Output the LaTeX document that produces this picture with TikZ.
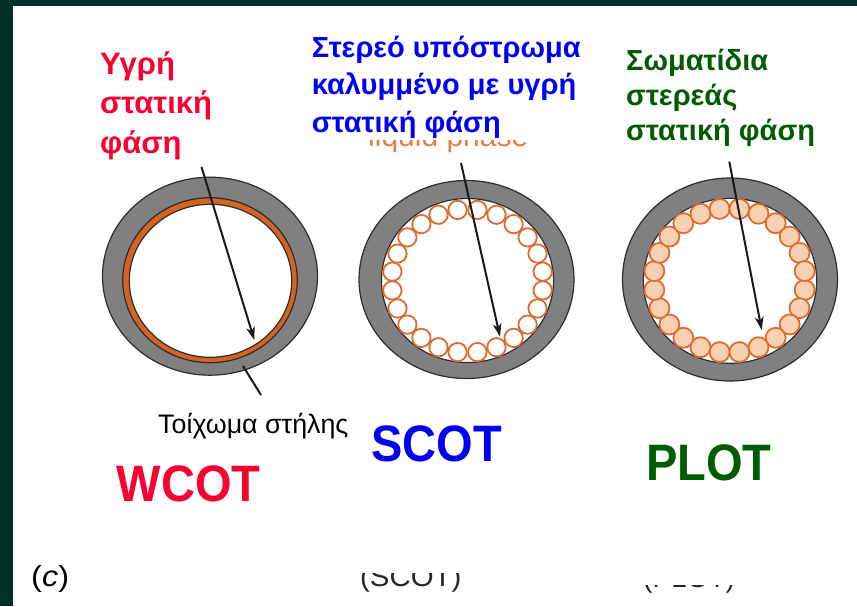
\documentclass[tikz,border=0pt]{standalone}
\usepackage{fontspec}
\usepackage{graphicx}
\setmainfont{Liberation Sans}
\usetikzlibrary{arrows.meta,shapes.geometric}

\definecolor{framegreen}{RGB}{0,48,38}
\definecolor{wallgrey}{RGB}{128,128,131}
\definecolor{edgegrey}{RGB}{45,45,45}
\definecolor{filmorange}{RGB}{214,98,32}
\definecolor{beadorange}{RGB}{222,108,48}
\definecolor{beadfill}{RGB}{248,208,178}
\definecolor{liqorange}{RGB}{226,126,64}
\definecolor{wred}{RGB}{250,0,50}
\definecolor{sblue}{RGB}{0,0,245}
\definecolor{pgreen}{RGB}{0,92,0}

\newcommand{\fs}[1]{\fontsize{#1}{#1}\selectfont}

\begin{document}
\begin{tikzpicture}[x=1pt,y=-1pt,
  ring/.style={ellipse, draw=edgegrey, line width=1.2pt, inner sep=0pt},
  wall/.style={ring, fill=wallgrey},
  bore/.style={ring, fill=white},
  film/.style={ring, fill=filmorange},
  ptr/.style={line width=2pt, draw=black!90,
    -{Stealth[length=13pt,width=8.5pt,inset=3.5pt]}},
  lead/.style={line width=2pt, draw=black!90},
  txt/.style={inner sep=0pt, anchor=base west},
  head/.style={txt, font=\bfseries\fs{#1}},
  big/.style={txt, font=\bfseries\fs{47}},
]
\useasboundingbox (0,0) rectangle (857,606);
\fill[white] (0,0) rectangle (857,606);
% dark frame strips
\fill[framegreen] (0,0) rectangle (13,606);
\fill[framegreen] (0,0) rectangle (857,5.7);

% ---------- WCOT: wall-coated open tubular ----------
\node[wall, minimum width=215pt, minimum height=198pt] (wwall) at (210,276.2) {};
\node[film, minimum width=174.6pt, minimum height=165pt] (wfilm) at (210,280.2) {};
\node[bore, minimum width=162.4pt, minimum height=153pt] (wbore) at (210.5,280.8) {};

% ---------- SCOT: support-coated open tubular ----------
\node[wall, minimum width=215pt, minimum height=198pt] (swall) at (466.5,279.5) {};
\node[bore, minimum width=172pt, minimum height=164pt] (sbore) at (467.5,280.5) {};
\foreach \a in {0,...,23}{
  \draw[beadorange, line width=1.8pt, fill=white]
    ({467.5+75.8*cos(7.5+15*\a)},{281+71.7*sin(7.5+15*\a)}) circle[radius=9.2pt];
}

% ---------- PLOT: porous-layer open tubular ----------
\node[wall, minimum width=215pt, minimum height=203pt] (pwall) at (730,279.5) {};
\node[bore, minimum width=173.4pt, minimum height=165pt] (pbore) at (730,280.8) {};
\foreach \a in {0,...,23}{
  \draw[beadorange, line width=1.8pt, fill=beadfill]
    ({729.5+75.8*cos(7.5+15*\a)},{280.5+72.2*sin(7.5+15*\a)}) circle[radius=10pt];
}

% ---------- pointers ----------
\coordinate (wtail) at (201.5,167);
\coordinate (whead) at (254.3,340);
\coordinate (stail) at (461,163);
\coordinate (shead) at (500,336.7);
\coordinate (ptail) at (729.3,161.7);
\coordinate (phead) at (761.7,330);
\coordinate (walltip) at (243,366);
\coordinate (wallend) at (261,395);
\draw[ptr] (wtail) -- (whead);
\draw[ptr] (stail) -- (shead);
\draw[ptr] (ptail) -- (phead);
\draw[lead] (walltip) -- (wallend);

% ---------- headings ----------
\node[head=31, wred] (r1) at (100,74) {Υγρή};
\node[head=31, wred] (r2) at (100,113.5) {στατική};
\node[head=31, wred] (r3) at (100,153) {φάση};

% lower half of the orange caption, upper half hidden under the blue heading
\begin{scope}
  \clip (360,140) rectangle (548,160);
  \node[txt, font=\fs{30}, liqorange] (liq) at (368,146.7) {\smash{liquid phase}};
\end{scope}
\node[head=29, sblue] (b1) at (311.7,57) {Στερεό υπόστρωμα};
\node[head=29, sblue] (b2) at (311.7,94.5) {καλυμμένο με υγρή};
\node[head=29, sblue] (b3) at (311.7,132) {στατική φάση};

\node[head=29, pgreen] (g1) at (626,70.5) {Σωματίδια};
\node[head=29, pgreen] (g2) at (626,105.5) {στερεάς};
\node[head=29, pgreen] (g3) at (626,140.5) {στατική φάση};

% ---------- labels ----------
\node[txt, font=\fs{26.8}] (walllbl) at (158,433) {Τοίχωμα στήλης};
\node[big, wred] (wcot) at (116.7,501.7) {\scalebox{1}[1.09]{WCOT}};
\node[big, sblue] (scot) at (371,461.7) {\scalebox{1}[1.09]{SCOT}};
\node[big, pgreen] (plot) at (646,480) {\scalebox{1}[1.09]{PLOT}};

\node[txt, font=\fs{29}] (panel) at (31,586) {\scalebox{1.12}[1]{(\textit{c})}};
\begin{scope}
  \clip (340,573) rectangle (480,606);
  \node[txt, font=\fs{28}, black!85] (scotsub) at (360,586) {\scalebox{1.05}[1]{(SCOT)}};
\end{scope}
\begin{scope}
  \clip (630,585) rectangle (760,606);
  \node[txt, font=\fs{28}, black!85] (plotsub) at (643,587) {(PLOT)};
\end{scope}
\end{tikzpicture}
\end{document}
